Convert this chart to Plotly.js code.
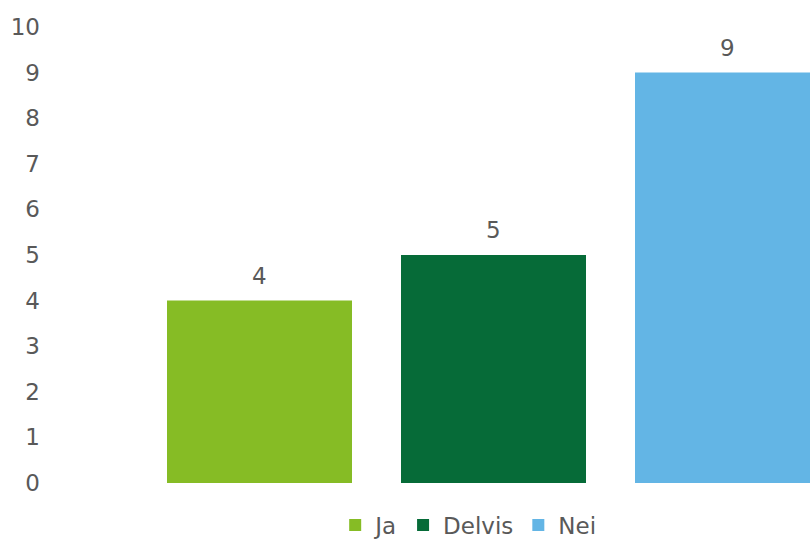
<!DOCTYPE html>
<html>
<head>
<meta charset="utf-8">
<script src="https://cdn.plot.ly/plotly-3.0.1.min.js"></script>
<style>html,body{margin:0;padding:0;background:#fff;}#chart{width:810px;height:543px;}</style>
</head>
<body>
<div id="chart"></div>
<script>
var categories = ["Ja", "Delvis", "Nei"];
var values = [4, 5, 9];
var colors = ["#86BC25", "#066B38", "#63B5E5"];
var yTicks = [0,1,2,3,4,5,6,7,8,9,10];

var textColor = "#595959";
var fontFamily = "Verdana, 'DejaVu Sans', sans-serif";
var fs = 23;

var traces = categories.map(function(c, i){
  return {
    type: "bar",
    name: c,
    x: [c],
    y: [values[i]],
    marker: {color: colors[i]},
    hoverinfo: "none"
  };
});

var annotations = categories.map(function(c, i){
  return {
    x: c, y: values[i], xref: "x", yref: "y",
    text: String(values[i]),
    showarrow: false, yanchor: "middle", yshift: 25,
    font: {family: fontFamily, size: fs, color: textColor}
  };
});

var layout = {
  width: 810, height: 543,
  margin: {l: 41, r: 0, t: 27, b: 60, autoexpand: false},
  paper_bgcolor: "#ffffff", plot_bgcolor: "#ffffff",
  barmode: "overlay",
  bargap: 0.2094,
  font: {family: fontFamily, size: fs, color: textColor},
  xaxis: {type: "category", range: [-0.9338, 2.3526], showticklabels: false, showgrid: false, zeroline: false, showline: false, ticks: ""},
  yaxis: {range: [0, 10], tickvals: yTicks, ticktext: yTicks.map(String), showgrid: false, zeroline: false, showline: false, ticks: "", tickfont: {family: fontFamily, size: fs, color: textColor}},
  showlegend: true,
  legend: {orientation: "h", xref: "container", yref: "container", x: 0.578, xanchor: "center", y: 0.033, yanchor: "middle", itemgap: 8, font: {family: fontFamily, size: fs, color: textColor}, traceorder: "normal"},
  annotations: annotations
};

Plotly.newPlot("chart", traces, layout, {displayModeBar: false, staticPlot: true});
</script>
</body>
</html>
